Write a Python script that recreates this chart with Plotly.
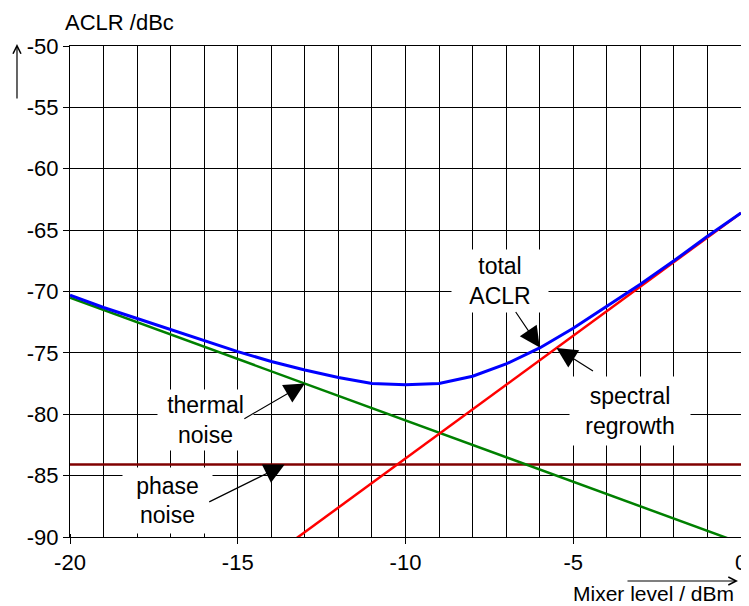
import plotly.graph_objects as go

# Mixer level in dBm (one point per dB)
mixer_level = [-20, -19, -18, -17, -16, -15, -14, -13, -12, -11, -10,
               -9, -8, -7, -6, -5, -4, -3, -2, -1, 0]

# ACLR contributions in dBc
thermal_noise = [-70.5, -71.5, -72.5, -73.5, -74.5, -75.5, -76.5, -77.5, -78.5, -79.5, -80.5,
                 -81.5, -82.5, -83.5, -84.5, -85.5, -86.5, -87.5, -88.5, -89.5, -90.5]
spectral_level = [-14, -13, -12, -11, -10, -9, -8, -7, -6, -5, -4, -3, -2, -1, 0]
spectral_regrowth = [-91.6, -89.6, -87.6, -85.6, -83.6, -81.6, -79.6, -77.6,
                     -75.6, -73.6, -71.6, -69.6, -67.6, -65.6, -63.6]
phase_level = [-20, 0]
phase_noise = [-84.1, -84.1]
total_aclr = [-70.3, -71.3, -72.2, -73.1, -74.0, -74.9, -75.7, -76.4, -77.0, -77.5, -77.6,
              -77.5, -76.9, -75.9, -74.6, -73.0, -71.2, -69.4, -67.5, -65.5, -63.6]

x_ticks = [-20, -15, -10, -5, 0]
x_ticklabels = ["-20", "-15", "-10", "-5", "0"]
y_ticks = [-90, -85, -80, -75, -70, -65, -60, -55, -50]
y_ticklabels = ["-90", "-85", "-80", "-75", "-70", "-65", "-60", "-55", "-50"]

FONT = "Arial, Liberation Sans, sans-serif"

fig = go.Figure()

fig.add_trace(go.Scatter(x=phase_level, y=phase_noise, mode="lines",
                         line=dict(color="#800000", width=2.5), name="phase noise"))
fig.add_trace(go.Scatter(x=mixer_level, y=thermal_noise, mode="lines",
                         line=dict(color="#008000", width=2.5), name="thermal noise"))
fig.add_trace(go.Scatter(x=spectral_level, y=spectral_regrowth, mode="lines",
                         line=dict(color="#ff0000", width=2.5), name="spectral regrowth"))
fig.add_trace(go.Scatter(x=mixer_level, y=total_aclr, mode="lines",
                         line=dict(color="#0000ff", width=3), name="total ACLR"))

# curve labels (white boxes hide the grid)
labels = [
    ("total<br>ACLR", -7.18, -69.15, 96, 62),
    ("spectral<br>regrowth", -3.31, -79.75, 120, 68),
    ("thermal<br>noise", -15.95, -80.48, 95, 60),
    ("phase<br>noise", -17.08, -87.0, 89, 65),
]
for text, lx, ly, w, h in labels:
    fig.add_annotation(x=lx, y=ly, text=text, showarrow=False, bgcolor="white",
                       width=w, height=h, borderpad=0,
                       font=dict(family=FONT, size=23, color="black"))

# pointer arrows
arrows = [(-6.0, -74.56, -25, -37), (-5.5, -74.6, 38, 24),
          (-13.0, -77.5, -62, 36), (-13.6, -84.1, -77, 38)]
for hx, hy, ax, ay in arrows:
    fig.add_annotation(x=hx, y=hy, text="", showarrow=True, ax=ax, ay=ay,
                       arrowhead=2, arrowsize=3.4, arrowwidth=1.2,
                       arrowcolor="black", standoff=0)

# axis titles with their arrows
fig.add_annotation(xref="paper", yref="paper", x=-0.0104, y=1.047, text="ACLR /dBc",
                   showarrow=False, xanchor="left", yanchor="middle",
                   font=dict(family=FONT, size=22, color="black"))
fig.add_annotation(xref="paper", yref="paper", x=-0.079, y=1.004, text="",
                   showarrow=True, ax=0, ay=56, arrowhead=5, arrowsize=1.3,
                   arrowwidth=1.2, arrowcolor="black", standoff=0)
fig.add_annotation(xref="paper", yref="paper", x=0.993, y=-0.115, text="Mixer level / dBm",
                   showarrow=False, xanchor="right", yanchor="middle",
                   font=dict(family=FONT, size=21, color="black"))
fig.add_annotation(xref="paper", yref="paper", x=0.9955, y=-0.0896, text="",
                   showarrow=True, ax=-112, ay=0, arrowhead=5, arrowsize=1.3,
                   arrowwidth=1.2, arrowcolor="black", standoff=0)

fig.update_xaxes(range=[-20, 0], tickvals=x_ticks, ticktext=x_ticklabels,
                 ticks="outside", ticklen=6, automargin=False,
                 tickcolor="black", showline=True, linecolor="black", linewidth=1,
                 mirror=True, showgrid=True, gridcolor="black", gridwidth=1,
                 zeroline=False,
                 minor=dict(dtick=1, ticks="inside", ticklen=3, tickcolor="black",
                            showgrid=True, gridcolor="black", gridwidth=1),
                 tickfont=dict(family=FONT, size=22, color="black"))
fig.update_yaxes(range=[-90, -50], tickvals=y_ticks, ticktext=y_ticklabels,
                 ticks="outside", ticklen=6, automargin=False,
                 tickcolor="black", showline=True, linecolor="black", linewidth=1,
                 mirror=True, showgrid=True, gridcolor="black", gridwidth=1,
                 zeroline=False,
                 tickfont=dict(family=FONT, size=22, color="black"))

# the page body adds an 8 px offset, so the figure is 8 px smaller each way
fig.update_layout(width=741, height=598, showlegend=False,
                  plot_bgcolor="white", paper_bgcolor="white",
                  margin=dict(l=62, r=8, t=38, b=69))

fig.write_html("out.html")
